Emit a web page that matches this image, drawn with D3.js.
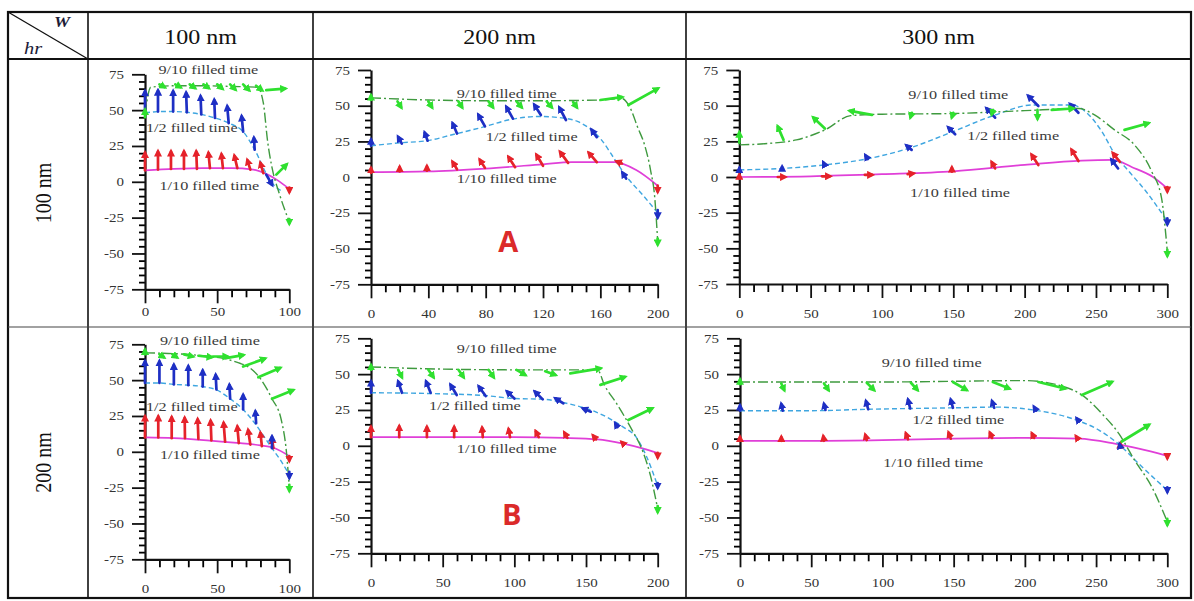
<!DOCTYPE html>
<html>
<head>
<meta charset="utf-8">
<script src="https://cdn.jsdelivr.net/npm/d3@7"></script>
<style>
  body { margin: 0; background: #fff; }
  svg { display: block; }
</style>
</head>
<body>
<svg id="chart"></svg>
<script>
// table headings
var widthsNm = [100, 200, 300];
var heightsNm = [100, 200];
var seriesNames = ["1/10 filled time", "1/2 filled time", "9/10 filled time"];
var panelTags = ["A", "B"];
var yTicks = [-75, -50, -25, 0, 25, 50, 75];

// x tick labels per cell
var p1XTicks = [0, 50, 100];
var p2XTicks = [0, 40, 80, 120, 160, 200];
var p3XTicks = [0, 50, 100, 150, 200, 250, 300];
var p4XTicks = [0, 50, 100];
var p5XTicks = [0, 50, 100, 150, 200];
var p6XTicks = [0, 50, 100, 150, 200, 250, 300];

// curves [x, y] ; arrows [x, y, xTip, yTip]
// hr 100, W 100
var p1Tenth = [[0,8],[20,9],[40,9.5],[60,9.5],[75,8.5],[85,5],[92,1],[100,-5]];
var p1Half = [[0,48],[10,49],[20,49],[29,48.5],[39,47],[48.5,44.5],[58,41],[68,35],[76,22.5],[85,4],[90,-3],[94,-6]];
var p1Nine = [[0,47],[4,66],[20,67],[40,67],[60,66.5],[78,66],[82,55],[85,28],[88,10],[93,-8],[100,-28]];
var p1Red = [[0,8,0,20],[9,8.5,9,21],[18,9,18,21],[27,9,27,21],[36,9,35.5,21],[45,9.5,44,20],[54,9.5,53,19],[64,9.5,62,18],[73,8.5,71,15],[82,6,80,13],[100,-4,100,-7]];
var p1Blue = [[0,48,0,63],[9,49,9,63.5],[19.5,49,19.5,63],[29,48.5,28.5,62],[39,47,38.5,59.5],[48.5,44.5,48,57],[58,41,57,52.5],[68,35,67,45.5],[76,22.5,75.5,30.5],[84,5,88,-2]];
var p1Green = [[0,45,0,50],[10,68,13.5,66],[21,68,24.5,66],[31,68,34.5,65.5],[40.5,68,44,65.5],[50,68,53.5,65],[59,68,62.5,64.5],[68,68,72,64],[77,67,81,64],[84,64,97,65],[91,5,98,12],[100,-26,100,-29]];

// hr 100, W 200
var p2Tenth = [[0,3.5],[40,4],[80,6],[120,9],[140,10.5],[170,10.5],[185,5],[200,-6]];
var p2Half = [[0,22],[20,24],[39,25.5],[58,30],[78,35],[98,40.5],[117,42.5],[133,41.5],[144,39],[160,27],[170,12.5],[177,2],[190,-13],[200,-25]];
var p2Nine = [[0,55.5],[40,54],[80,53.5],[120,53.5],[160,54],[175,55],[181,48],[186,35],[191,22],[195,5],[198,-15],[200,-45]];
var p2Red = [[0,3,0,6],[20,4,20,7],[39,4.5,39,7.5],[60,5.5,57,10.5],[79.5,6.5,76,12],[100.5,7,96,14],[120,8,115.5,15.5],[137.5,10,132,17.5],[157.5,10.5,152,17],[175,9.5,171.5,11],[200,-6,200,-10]];
var p2Blue = [[0,22,0,26],[21.5,23.5,19,28],[39.5,25.5,37.5,31],[60,30.5,57,37.5],[79.5,35.5,75,43.5],[99,41,94.5,49],[118.5,43.5,114,50.5],[136,40,131.5,48.5],[157.5,28,154,33],[178,-1,175.5,3],[200,-23,200,-28]];
var p2Green = [[0,54,0,57],[18.5,53,21,49],[40,53,42.5,49],[61,53,63.5,49],[82,53,85,49],[101.5,53,105,49],[122.5,53,126,49],[141,52.5,143.5,49],[160,54,175,56],[179.5,50.5,200,62],[200,-43,200,-47]];

// hr 100, W 300
var p3Tenth = [[0,0],[50,0.5],[100,2],[150,4],[200,8.5],[240,11.5],[262,12],[275,7],[290,0],[300,-8]];
var p3Half = [[0,5],[30,6],[60,8.5],[91,13],[120,20.5],[149,31.5],[178,43],[206,50.5],[233,50.5],[243,45.5],[254,32],[263.5,15.5],[273,4],[285,-10],[300,-31]];
var p3Nine = [[0,22.5],[20,23.5],[40,26],[60,33],[78,43],[100,44],[150,44.5],[200,46.5],[238,48],[249,43.5],[263,33],[277,22.5],[289,4],[296,-15],[300,-52]];
var p3Red = [[0,-1,0,1.5],[27,0,32,0],[58,0.5,63.5,0.5],[88,1.5,93,1.5],[118,2,122,2.5],[149,3.7,149,6.5],[179.3,6,177,10.3],[209.6,8.4,205,15.4],[237.7,11.2,233,18.9],[266.8,10.5,262,16.6],[300,-7,300,-10]];
var p3Blue = [[0,4,0,6],[30,5.5,30,7],[60,8,59,10],[90,12.5,88.5,15],[120.8,19,117.3,22],[151.3,30,146.6,34.6],[179.3,41.6,173.4,48],[209.6,49.8,202.6,56.8],[237.7,45,232,51],[265.5,6,261,12],[300,-29,300,-33]];
var p3Green = [[0,24,0,31],[31,26,27,35.3],[60,34,52,41.6],[93,43.5,77.6,46.3],[121,45,120,42],[150,45,149,42],[178,47,177,44],[209,47,209,41],[219,47,234,48],[270,33,286.7,37.7],[300,-51,300,-55]];

// hr 200, W 100
var p4Tenth = [[0,10],[20,9.5],[43,8],[66,6],[80,4.5],[90,2.5],[100,-3]];
var p4Half = [[0,48],[10,48],[20,47],[30,46.5],[40,45.5],[50,43],[59,37],[68,29.5],[76,20],[88,2.5],[94,-6],[100,-16]];
var p4Nine = [[0,69],[20,68.5],[40,67],[55,65],[65,62],[72,59],[80,51],[88,37],[94.5,22],[98,0],[100,-25]];
var p4Red = [[0,10,0,24.5],[9.2,10,9.2,24.5],[18.5,9.5,18.5,24],[27.7,9.5,27.5,23.5],[37,9,36.5,22.5],[46,8,45.5,21.5],[55.5,7,54.5,20],[65,6,64,17.5],[73,5,71.5,15],[81,4,80,13],[89,2.5,88,9],[100,-3,100,-6]];
var p4Blue = [[0,48,0,63],[10,48,10,63],[20,47,20,60.5],[30,46.5,30,59.5],[40,45.5,40,56.5],[49.5,43.5,49,53.5],[59,37,58.5,46.5],[68,29.5,68,39.5],[77,20,76.5,28],[88,2.5,88,10.5],[100,-14,100,-18]];
var p4Green = [[0,68,0,71],[10,68,13,66],[19,68,22,66],[27,68,33,66.5],[37,67,46,66],[47,66.5,57,66.5],[57,65.5,68,67.5],[68,59.5,83,65],[78.5,52,93.5,58.5],[88,37,102.5,43],[100,-23,100,-27]];

// hr 200, W 200
var p5Tenth = [[0,6],[50,6],[100,6],[135,5.5],[158,4.5],[176,1.5],[190,-2],[200,-5]];
var p5Half = [[0,37],[40,36.5],[80,35],[100,33],[120,32.5],[137,29.5],[156,24],[176,13],[185,6],[192,-7],[200,-28]];
var p5Nine = [[0,55],[50,53.5],[100,53],[140,53],[158,53],[163,42],[171,30],[181,13],[190,-5],[195,-21],[200,-44]];
var p5Red = [[0,6,0,13],[19.7,6,19.7,13.5],[39,6,39,13],[58,6,58,13],[78,6,77.5,12.5],[97,6,96,11.5],[117,6,115,10],[137,5.5,135,9],[157,4.5,155,7],[176,1.5,175,2.5],[200,-5,200,-8]];
var p5Blue = [[0,37,0,44.7],[21.6,37,19,44.7],[41.6,37,38.5,44.7],[59.8,35.4,55.6,42.4],[80,34.7,75.3,41.2],[100,33,95,37.7],[119.8,32.4,114.4,37.7],[134.2,29.6,128.8,33],[153.3,23.8,148,26],[172,13,170.5,15.5],[200,-26,200,-29]];
var p5Green = [[0,53,0,56],[19,53,21.5,48],[40,53,43.5,48],[61,53,64.5,48],[82,53,85.5,48],[101.5,53,107.5,49.5],[121.5,52,128.5,49.5],[139,50.5,160,54],[160,42.5,177,48],[179.5,18,196,26],[200,-42,200,-46]];

// hr 200, W 300
var p6Tenth = [[0,3.5],[50,3.5],[100,4],[150,5],[200,5.5],[238,5],[263,1.5],[280,-2],[300,-7]];
var p6Half = [[0,24.5],[50,24.5],[90,25.5],[150,26.5],[180,27],[206,25],[236,18],[252,11],[266,1],[282,-14.5],[300,-31]];
var p6Nine = [[0,44.5],[50,44.5],[100,44.5],[150,45],[200,45.5],[228,41],[240,35.5],[254,22.5],[266,8.5],[277,-10],[289,-28.5],[300,-53]];
var p6Red = [[0,3.5,0,6],[29,3.5,29,6],[59,3.5,58.5,6.5],[89,4,88,7.5],[118,4.5,116.5,8.5],[148,5,146.5,9],[177,5.5,175.5,9],[206.5,5.5,205,8.5],[237,5,236,6.5],[267,0,267,1.5],[300,-6,300,-8.5]];
var p6Blue = [[0,24.5,0,28],[30,24.5,29,29],[60,25,59,29],[90,25.5,88.5,31],[119.5,26,118,32],[149.5,26.5,148,32],[178.5,26.5,177,31],[208,24.5,206.5,27],[238,17,236.5,19],[267,-1,266.5,1],[300,-29,300,-32]];
var p6Green = [[0,43,0,46],[29,43.5,31,39],[59,43.5,62,39],[89,44,94,39],[120,44,124.5,39],[149.5,44.5,159,39],[177.5,44.5,189,40],[209.5,44.5,228,40],[240,35.5,261,44.5],[268,3,287,14.5],[300,-51,300,-55]];

var STRETCH = 1.2;   // the scanned figure is wider than it is tall
var SERIF = "'Liberation Serif', 'Times New Roman', Times, serif";
var W = 1194, H = 601;

var svg = d3.select("#chart").attr("width", W).attr("height", H);
svg.append("rect").attr("width", W).attr("height", H).attr("fill", "#fff");

var colors = {
	tenth: "#e03fd8", half: "#3fa6e0", nine: "#3f9a3f",
	red: "#e5222a", blue: "#1e2fc4", green: "#2fe02f"
};

var defs = svg.append("defs");
["red", "blue", "green"].forEach(function(c) {
	defs.append("marker")
		.attr("id", "head-" + c)
		.attr("viewBox", "0 0 10 10")
		.attr("refX", 6)
		.attr("refY", 5)
		.attr("markerWidth", 3)
		.attr("markerHeight", 3)
		.attr("orient", "auto")
		.append("path")
			.attr("d", "M0,0L10,5L0,10z")
			.attr("fill", colors[c]);
});

function stretchText(parent, px, py, txt) {
	return parent.append("text")
		.attr("transform", "translate(" + px + "," + py + ") scale(" + STRETCH + ",1)")
		.text(txt);
}

// Table grid
var colEdges = [8, 88, 313, 686, 1191];
var rowEdges = [12, 59, 327, 598];
var grid = svg.append("g").attr("stroke", "#111").attr("fill", "none");

grid.append("rect")
	.attr("x", colEdges[0]).attr("y", rowEdges[0])
	.attr("width", colEdges[4] - colEdges[0])
	.attr("height", rowEdges[3] - rowEdges[0])
	.attr("stroke-width", 2.2);
colEdges.slice(1, 4).forEach(function(x) {
	grid.append("line").attr("x1", x).attr("x2", x)
		.attr("y1", rowEdges[0]).attr("y2", rowEdges[3])
		.attr("stroke-width", 1.6);
});
grid.append("line").attr("x1", colEdges[0]).attr("x2", colEdges[4])
	.attr("y1", rowEdges[1]).attr("y2", rowEdges[1]).attr("stroke-width", 2.2);
grid.append("line").attr("x1", colEdges[0]).attr("x2", colEdges[4])
	.attr("y1", rowEdges[2]).attr("y2", rowEdges[2]).attr("stroke-width", 1.2).attr("stroke", "#444");
grid.append("line").attr("x1", colEdges[0]).attr("y1", rowEdges[0])
	.attr("x2", colEdges[1]).attr("y2", rowEdges[1]).attr("stroke-width", 1.3);

// corner cell
var corner = svg.append("g").attr("font-family", SERIF).attr("font-style", "italic").attr("fill", "#1c1c38");
stretchText(corner, 62, 27, "W").attr("font-size", 15).attr("font-weight", "bold").attr("text-anchor", "middle");
stretchText(corner, 33, 54, "hr").attr("font-size", 17).attr("text-anchor", "middle");

// column and row headings
var heads = svg.append("g").attr("font-family", SERIF).attr("font-size", 20).attr("fill", "#111");
widthsNm.forEach(function(w, i) {
	stretchText(heads, (colEdges[i + 1] + colEdges[i + 2]) / 2, 44, w + " nm").attr("text-anchor", "middle");
});
heightsNm.forEach(function(h, j) {
	var cy = (rowEdges[j + 1] + rowEdges[j + 2]) / 2;
	heads.append("text")
		.attr("transform", "translate(" + 51 + "," + cy + ") scale(" + STRETCH + ",1) rotate(-90)")
		.attr("text-anchor", "middle")
		.text(h + " nm");
});

// panel layout (pixels) built around the data arrays
var panels = [
	{xMax: 100, xTicks: p1XTicks, px: [145, 289.3], py: [289.3, 74.3], pad: 3.5,
	 curves: [p1Tenth, p1Half, p1Nine], arrows: [p1Red, p1Blue, p1Green],
	 labels: [[44.6, -2.2], [32.4, 37.8], [43.9, 78.7]]},
	{xMax: 200, xTicks: p2XTicks, px: [371, 657.7], py: [284.3, 70], pad: 11,
	 curves: [p2Tenth, p2Half, p2Nine], arrows: [p2Red, p2Blue, p2Green],
	 labels: [[94.7, -0.9], [112.1, 28.9], [94.7, 58.6]], tag: [95.8, -45.3, 0]},
	{xMax: 300, xTicks: p3XTicks, px: [739.3, 1167.3], py: [284, 70], pad: 11,
	 curves: [p3Tenth, p3Half, p3Nine], arrows: [p3Red, p3Blue, p3Green],
	 labels: [[154.7, -10.7], [192, 29], [153.5, 58]]},
	{xMax: 100, xTicks: p4XTicks, px: [145, 289.3], py: [559.3, 344.3], pad: 11,
	 curves: [p4Tenth, p4Half, p4Nine], arrows: [p4Red, p4Blue, p4Green],
	 labels: [[45, -1.5], [32.4, 32], [45, 77.5]]},
	{xMax: 200, xTicks: p5XTicks, px: [371, 657.7], py: [553.3, 338.3], pad: 11,
	 curves: [p5Tenth, p5Half, p5Nine], arrows: [p5Red, p5Blue, p5Green],
	 labels: [[94.7, -1.7], [72.5, 28.5], [94.7, 68]], tag: [98.2, -48.3, 1]},
	{xMax: 300, xTicks: p6XTicks, px: [740, 1167.3], py: [553.3, 338.3], pad: 11,
	 curves: [p6Tenth, p6Half, p6Nine], arrows: [p6Red, p6Blue, p6Green],
	 labels: [[135.7, -11.8], [153.3, 18.5], [134.6, 58]]}
];

var curveStyle = [
	{color: colors.tenth, dash: null, width: 1.7},
	{color: colors.half, dash: "5,3", width: 1.4},
	{color: colors.nine, dash: "10,3,2,3", width: 1.4}
];
var arrowColor = ["red", "blue", "green"];

function stretchAxisText(g) {
	g.selectAll(".tick text").each(function() {
		var t = d3.select(this);
		t.attr("x", (+t.attr("x") || 0) / STRETCH).attr("transform", "scale(" + STRETCH + ",1)");
	});
}

panels.forEach(function(p) {
	var x = d3.scaleLinear().domain([0, p.xMax]).range(p.px);
	var y = d3.scaleLinear().domain([-75, 75]).range(p.py);
	var g = svg.append("g");

	// minor ticks
	var minorY = d3.range(-75, 76, 5).filter(function(v) { return yTicks.indexOf(v) < 0; });
	var minorX = d3.range(0, p.xMax + 1, 10).filter(function(v) { return p.xTicks.indexOf(v) < 0; });
	g.append("g")
		.attr("transform", "translate(" + p.px[0] + ",0)")
		.call(d3.axisLeft(y).tickValues(minorY).tickSize(6).tickSizeOuter(0).tickFormat(""))
		.call(function(a) { a.select(".domain").remove(); a.selectAll("line").attr("stroke-width", 1.8); });
	g.append("g")
		.attr("transform", "translate(0," + p.py[0] + ")")
		.call(d3.axisBottom(x).tickValues(minorX).tickSize(8).tickSizeOuter(0).tickFormat(""))
		.call(function(a) { a.select(".domain").remove(); a.selectAll("line").attr("stroke-width", 1.8); });

	// major ticks with labels
	var yAxis = g.append("g")
		.attr("transform", "translate(" + p.px[0] + ",0)")
		.call(d3.axisLeft(y).tickValues(yTicks).tickSize(13).tickSizeOuter(0).tickPadding(8)
			.tickFormat(function(d) { return String(d); }));
	var xAxis = g.append("g")
		.attr("transform", "translate(0," + p.py[0] + ")")
		.call(d3.axisBottom(x).tickValues(p.xTicks).tickSize(14).tickSizeOuter(0).tickPadding(p.pad)
			.tickFormat(function(d) { return String(d); }));
	[yAxis, xAxis].forEach(function(a) {
		a.attr("font-family", SERIF).attr("font-size", 12.5);
		a.select(".domain").attr("stroke", "#111").attr("stroke-width", 2.2);
		a.selectAll(".tick line").attr("stroke", "#111").attr("stroke-width", 1.8);
		a.selectAll(".tick text").attr("fill", "#333");
		stretchAxisText(a);
	});

	// curves
	var line = d3.line()
		.x(function(d) { return x(d[0]); })
		.y(function(d) { return y(d[1]); })
		.curve(d3.curveMonotoneX);
	p.curves.forEach(function(c, i) {
		g.append("path")
			.datum(c)
			.attr("d", line)
			.attr("fill", "none")
			.attr("stroke", curveStyle[i].color)
			.attr("stroke-width", curveStyle[i].width)
			.attr("stroke-dasharray", curveStyle[i].dash);
	});

	// arrows
	p.arrows.forEach(function(set, i) {
		g.append("g").selectAll("line")
			.data(set)
			.enter()
			.append("line")
				.attr("x1", function(d) { return x(d[0]); })
				.attr("y1", function(d) { return y(d[1]); })
				.attr("x2", function(d) { return x(d[2]); })
				.attr("y2", function(d) { return y(d[3]); })
				.attr("stroke", colors[arrowColor[i]])
				.attr("stroke-width", 2.7)
				.attr("stroke-linecap", "round")
				.attr("marker-end", "url(#head-" + arrowColor[i] + ")");
	});

	// series labels
	var lab = g.append("g").attr("font-family", SERIF).attr("font-size", 13.5).attr("fill", "#3a3a3a");
	p.labels.forEach(function(l, i) {
		stretchText(lab, x(l[0]), y(l[1]), seriesNames[i])
			.attr("text-anchor", "middle")
			.attr("dy", "0.35em");
	});

	if (p.tag) {
		g.append("text")
			.attr("x", x(p.tag[0]))
			.attr("y", y(p.tag[1]))
			.attr("dy", "0.36em")
			.attr("text-anchor", "middle")
			.attr("font-family", "Open Sans")
			.attr("font-weight", "bold")
			.attr("font-size", 29)
			.attr("fill", "#db2a2a")
			.text(panelTags[p.tag[2]]);
	}
});
</script>
</body>
</html>
